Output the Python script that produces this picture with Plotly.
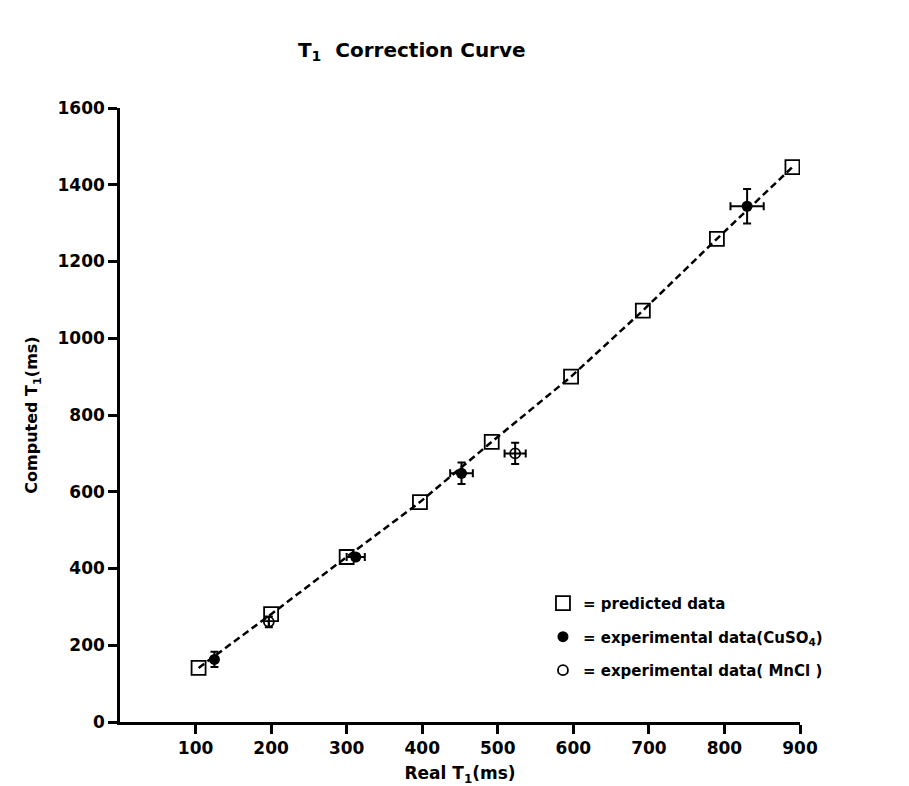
import plotly.graph_objects as go

# Predicted data (squares, dashed line)
pred_x = [104, 200, 300, 397, 492, 597, 692, 790, 890]
pred_y = [141, 281, 430, 573, 730, 900, 1072, 1259, 1446]

# Experimental data CuSO4 (filled circles)
cu_x = [125, 312, 452, 830]
cu_y = [163, 430, 648, 1344]
cu_ex = [0, 12, 15, 22]
cu_ey = [20, 8, 28, 45]

# Experimental data MnCl (open circles)
mn_x = [197, 523]
mn_y = [261, 700]
mn_ex = [0, 14]
mn_ey = [14, 28]

x_ticks = [100, 200, 300, 400, 500, 600, 700, 800, 900]
y_ticks = [0, 200, 400, 600, 800, 1000, 1200, 1400, 1600]

FONT = "DejaVu Sans"

fig = go.Figure()

fig.add_trace(go.Scatter(
    x=pred_x, y=pred_y, mode="lines",
    line=dict(color="black", width=2.5, dash="7px,4px"),
    showlegend=False, hoverinfo="skip",
))
fig.add_trace(go.Scatter(
    x=pred_x, y=pred_y, mode="markers",
    marker=dict(symbol="square-open", size=14, color="black", line=dict(width=1.8)),
    name="= predicted data", legendgroup="a",
))
fig.add_trace(go.Scatter(
    x=cu_x, y=cu_y, mode="markers",
    marker=dict(symbol="circle", size=11, color="black"),
    error_x=dict(type="data", array=cu_ex, color="black", thickness=2, width=4),
    error_y=dict(type="data", array=cu_ey, color="black", thickness=2, width=4),
    name="= experimental data(CuSO<sub>4</sub>)", legendgroup="b",
))
fig.add_trace(go.Scatter(
    x=mn_x, y=mn_y, mode="markers",
    marker=dict(symbol="circle-open", size=10, color="black", line=dict(width=1.8)),
    error_x=dict(type="data", array=mn_ex, color="black", thickness=2, width=4),
    error_y=dict(type="data", array=mn_ey, color="black", thickness=2, width=4),
    name="= experimental data( MnCl )", legendgroup="c",
))

fig.update_layout(
    width=909, height=786,
    margin=dict(l=120, r=109, t=108, b=64),
    paper_bgcolor="white", plot_bgcolor="white",
    font=dict(family=FONT, color="black", size=16, weight="bold"),
    title=dict(text="T<sub>1</sub>  Correction Curve", x=0.453, xanchor="center",
               y=0.937, yanchor="middle",
               font=dict(size=20, family=FONT, weight="bold")),
    showlegend=True,
    legend=dict(x=0.622, y=0.22, xanchor="left", yanchor="top",
                bgcolor="rgba(0,0,0,0)", traceorder="grouped", tracegroupgap=11,
                font=dict(size=15, family=FONT, weight="bold"),
                itemwidth=30),
)
fig.update_xaxes(
    range=[0, 900], tickvals=x_ticks, ticktext=[str(v) for v in x_ticks],
    showgrid=False, zeroline=False, showline=True, linecolor="black", linewidth=2.5,
    ticks="outside", ticklen=9, tickwidth=2.5, tickcolor="black",
    tickfont=dict(size=17, family=FONT, weight="bold"),
    automargin=False,
    title=dict(text="Real T<sub>1</sub>(ms)", standoff=12,
               font=dict(size=17, family=FONT, weight="bold")),
)
fig.update_yaxes(
    range=[0, 1600], tickvals=y_ticks, ticktext=[str(v) for v in y_ticks],
    showgrid=False, zeroline=False, showline=True, linecolor="black", linewidth=2.5,
    ticks="outside", ticklen=9, tickwidth=2.5, tickcolor="black",
    tickfont=dict(size=17, family=FONT, weight="bold"),
    automargin=False,
    title=dict(text="Computed T<sub>1</sub>(ms)", standoff=16,
               font=dict(size=16, family=FONT, weight="bold")),
)

fig.write_html("out.html")
